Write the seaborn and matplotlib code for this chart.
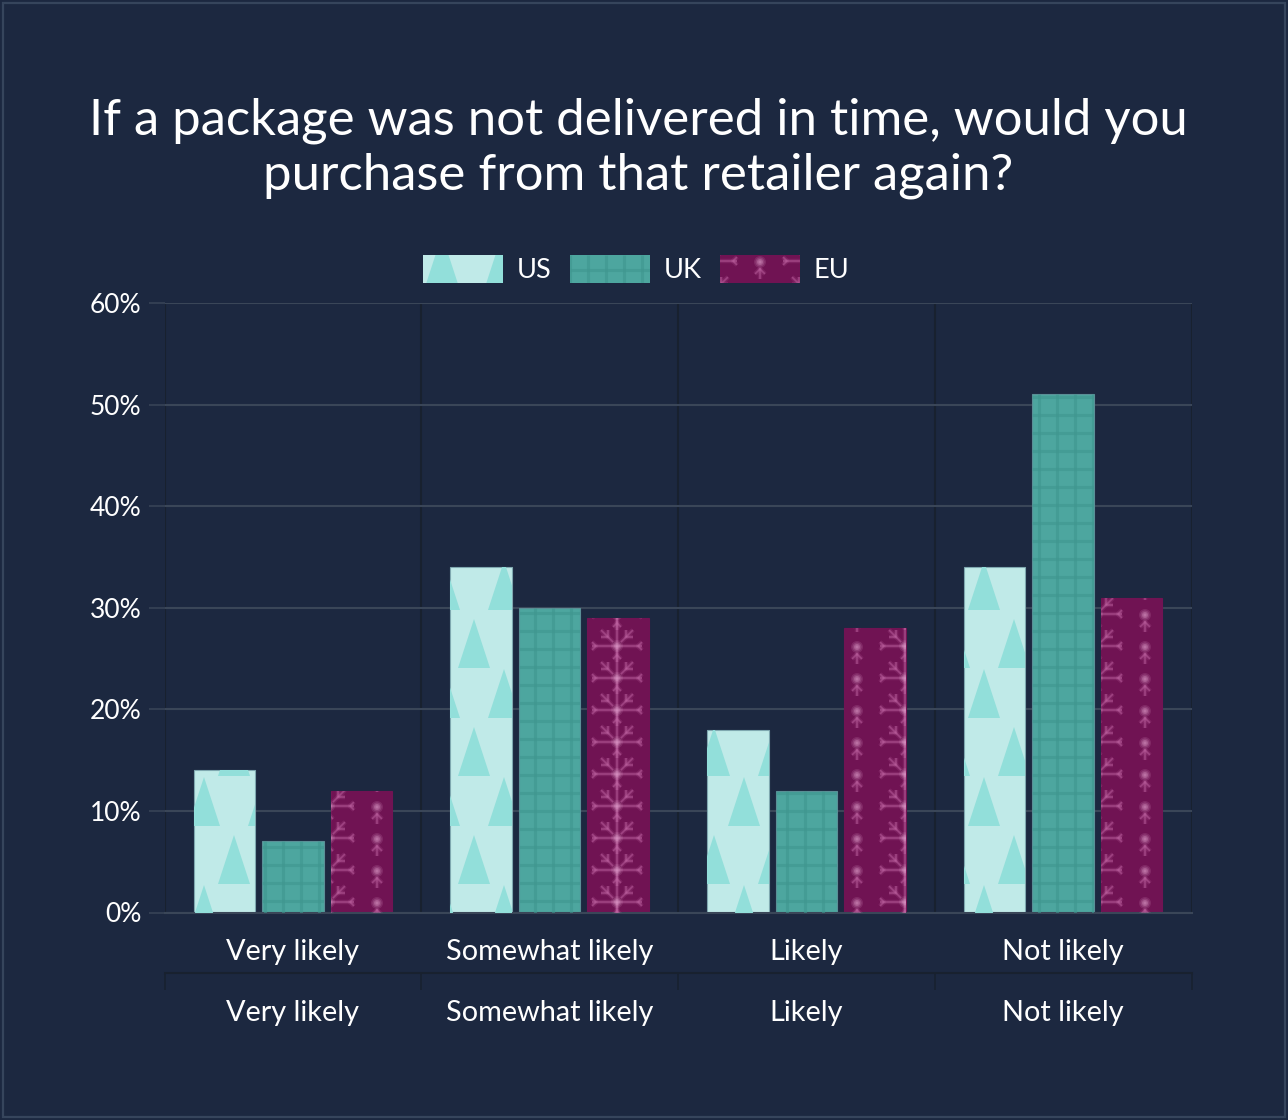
import numpy as np
import pandas as pd
import matplotlib
matplotlib.use('Agg')
import matplotlib.pyplot as plt
import seaborn as sns
from matplotlib.collections import LineCollection, PolyCollection
from matplotlib.patches import Circle, Rectangle
from matplotlib.transforms import IdentityTransform

# data
answers = ['Very likely', 'Somewhat likely', 'Likely', 'Not likely']
regions = ['US', 'UK', 'EU']
us_values = [14, 34, 18, 34]
uk_values = [7, 30, 12, 51]
eu_values = [12, 29, 28, 31]
y_ticks = [0, 10, 20, 30, 40, 50, 60]

# colours
BG = '#1c2840'
FRAME = '#36455c'
GRID = '#3a4658'
DARK_GRID = '#18212f'
TEXT = '#ffffff'
palette = {'US': '#c0eae8', 'UK': '#4da69f', 'EU': '#701353'}
EDGES = {'US': '#7fa8b0', 'UK': '#5a8f96', 'EU': '#701353'}

W, H = 1288, 1120

sns.set_theme(style='dark', rc={'figure.facecolor': BG, 'axes.facecolor': BG})
plt.rcParams['font.family'] = ['Lato', 'DejaVu Sans']

df = pd.DataFrame({
    'answer': answers * 3,
    'region': np.repeat(regions, 4),
    'share': us_values + uk_values + eu_values,
})

fig = plt.figure(figsize=(W / 100, H / 100), dpi=100, facecolor=BG)
ax = fig.add_axes([164.5 / W, (H - 912.5) / H, (1191.5 - 164.5) / W, (912.5 - 303) / H])

sns.barplot(data=df, x='answer', y='share', hue='region', hue_order=regions,
            palette=palette, saturation=1, width=0.8, gap=0.1, ax=ax)

ax.set_xlim(-0.5, 3.5)
ax.set_ylim(0, 60)
ax.set_xlabel('')
ax.set_ylabel('')
ax.set_axisbelow(True)
ax.set_facecolor(BG)

# y axis
ax.set_yticks(y_ticks, [f'{v}%' for v in y_ticks])
ax.grid(axis='y', color=GRID, lw=1.5)
ax.tick_params(axis='y', length=11.5, width=1.1, color=GRID, pad=5,
               labelsize=19, labelcolor=TEXT, left=True)

# x axis, category bounds get the dark lines
bounds = np.arange(len(answers) + 1) - 0.5
ax.set_xticks(range(len(answers)), answers)
ax.set_xticks(bounds, minor=True)
ax.grid(axis='x', which='minor', color=DARK_GRID, lw=1.5)
ax.grid(axis='x', which='major', visible=False)
ax.tick_params(axis='x', which='major', length=0, pad=19, labelsize=20.8, labelcolor=TEXT)
ax.tick_params(axis='x', which='minor', length=0)

for side, spine in ax.spines.items():
    spine.set_visible(side == 'bottom')
ax.spines['bottom'].set_color(GRID)
ax.spines['bottom'].set_linewidth(1.5)

# second label row
sec = ax.secondary_xaxis(-0.1)
sec.set_xticks(range(len(answers)), answers)
sec.set_xticks(bounds, minor=True)
sec.tick_params(axis='x', which='major', length=0, pad=19, labelsize=20.8, labelcolor=TEXT)
sec.tick_params(axis='x', which='minor', length=12, width=1.1, color=DARK_GRID)
sec.spines['bottom'].set_color(DARK_GRID)
sec.spines['bottom'].set_linewidth(1.5)

# legend
sns.move_legend(ax, 'lower center', bbox_to_anchor=(0.4592, 1.0), ncol=3, title=None,
                frameon=False, fontsize=19.5, labelcolor=TEXT, handlelength=2.95,
                handleheight=1.22, columnspacing=0.69, handletextpad=0.5,
                borderaxespad=0.72, borderpad=0)


def flip(y):
    return H - y


def add(artist, clip):
    artist.set_clip_path(clip)
    artist.set_zorder(3)
    fig.add_artist(artist)


def triangles(box, clip, ox, oy):
    # two staggered columns of triangles
    verts = []
    for cx, top in [(ox, oy), (ox + 30, oy + 58)]:
        for k in range(-30, 30):
            for m in range(-12, 12):
                x, y = cx + 60 * k, top + 108 * m
                if x + 16 < box.x0 or x - 16 > box.x1:
                    continue
                if flip(y + 49) > box.y1 or flip(y) < box.y0:
                    continue
                verts.append([(x, flip(y)), (x - 16, flip(y + 49)), (x + 16, flip(y + 49))])
    add(PolyCollection(verts, facecolors='#92dfda', edgecolors='none',
                       transform=IdentityTransform()), clip)


def grid_lines(box, clip, ox, oy):
    segs = []
    for x in np.arange(ox + 18 * np.floor((box.x0 - ox) / 18), box.x1 + 18, 18):
        segs.append([(x, box.y0), (x, box.y1)])
    for y in np.arange(oy + 18 * np.floor((flip(box.y1) - oy) / 18), flip(box.y0) + 18, 18):
        segs.append([(box.x0, flip(y)), (box.x1, flip(y))])
    add(LineCollection(segs, colors='#3f968f', linewidths=2.2, alpha=0.6,
                       transform=IdentityTransform()), clip)


def flakes(box, clip, ox, oy):
    # flowers at ox, snowflakes half a tile away
    segs = []
    dots = []
    for k in range(-30, 30):
        for m in range(-40, 40):
            fx, fy = ox + 96 * k, oy + 32 * m
            sx, sy = fx - 48, fy - 1
            if box.x0 - 20 < fx < box.x1 + 20 and flip(box.y1) - 20 < fy < flip(box.y0) + 20:
                dots.append((fx, fy))
                segs += [
                    [(fx, fy + 6), (fx, fy + 17)],
                    [(fx - 5, fy + 12), (fx, fy + 7), (fx + 5, fy + 12)],
                ]
            if box.x0 - 30 < sx < box.x1 + 30 and flip(box.y1) - 30 < sy < flip(box.y0) + 30:
                dots.append((sx, sy))
                segs += [
                    [(sx - 25, sy), (sx + 25, sy)],
                    [(sx, sy - 32), (sx, sy + 16)],
                    [(sx - 25, sy - 4), (sx - 21, sy), (sx - 25, sy + 4)],
                    [(sx + 25, sy - 4), (sx + 21, sy), (sx + 25, sy + 4)],
                    [(sx - 4, sy - 4), (sx - 16, sy - 16)],
                    [(sx + 4, sy - 4), (sx + 16, sy - 16)],
                    [(sx - 16, sy - 9), (sx - 9, sy - 9), (sx - 9, sy - 16)],
                    [(sx + 16, sy - 9), (sx + 9, sy - 9), (sx + 9, sy - 16)],
                    [(sx - 4, sy + 13), (sx, sy + 9), (sx + 4, sy + 13)],
                ]
    segs = [[(x, flip(y)) for x, y in s] for s in segs]
    # soft halo under the thin line, the original pattern is blurry
    add(LineCollection(segs, colors='#c56aa8', linewidths=3.2, alpha=0.18,
                       transform=IdentityTransform()), clip)
    add(LineCollection(segs, colors='#c56aa8', linewidths=1.2, alpha=0.45,
                       transform=IdentityTransform()), clip)
    for x, y in dots:
        for r, a in [(6, 0.15), (4.5, 0.2), (3, 0.3), (1.5, 0.3)]:
            add(Circle((x, flip(y)), r, facecolor='#e0a0cc', edgecolor='none', alpha=a,
                       transform=IdentityTransform()), clip)


def clip_rect(box):
    return Rectangle((box.x0, box.y0), box.width, box.height, transform=IdentityTransform())


for handle in ax.get_legend().legend_handles:
    handle.set_edgecolor('none')

fig.canvas.draw()

bar_patterns = {
    'US': (triangles, 204, 777),
    'UK': (grid_lines, 265, 847),
    'EU': (flakes, 377, 807),
}
for region, container in zip(regions, ax.containers):
    draw, ox, oy = bar_patterns[region]
    for bar in container:
        bar.set_edgecolor(EDGES[region])
        bar.set_linewidth(0.8)
        box = bar.get_window_extent()
        draw(box, clip_rect(box), ox, oy)

# the swatches have their own pattern origin
legend_patterns = {
    'US': (triangles, 442, 235),
    'UK': (grid_lines, 588, 270),
    'EU': (flakes, 760, 262),
}
for region, handle in zip(regions, ax.get_legend().legend_handles):
    draw, ox, oy = legend_patterns[region]
    box = handle.get_window_extent()
    draw(box, clip_rect(box), ox, oy)

# title
fig.text(638 / W, 1 - 148.5 / H, 'If a package was not delivered in time, would you\npurchase from that retailer again?',
         ha='center', va='center', color=TEXT, fontsize=36.6, linespacing=1.23)

# outer frame
fig.add_artist(Rectangle((3 / W, 3 / H), (W - 6) / W, (H - 6) / H, transform=fig.transFigure,
                         facecolor='none', edgecolor=FRAME, lw=1.6))

fig.savefig('out.png', dpi=100, facecolor=BG)
